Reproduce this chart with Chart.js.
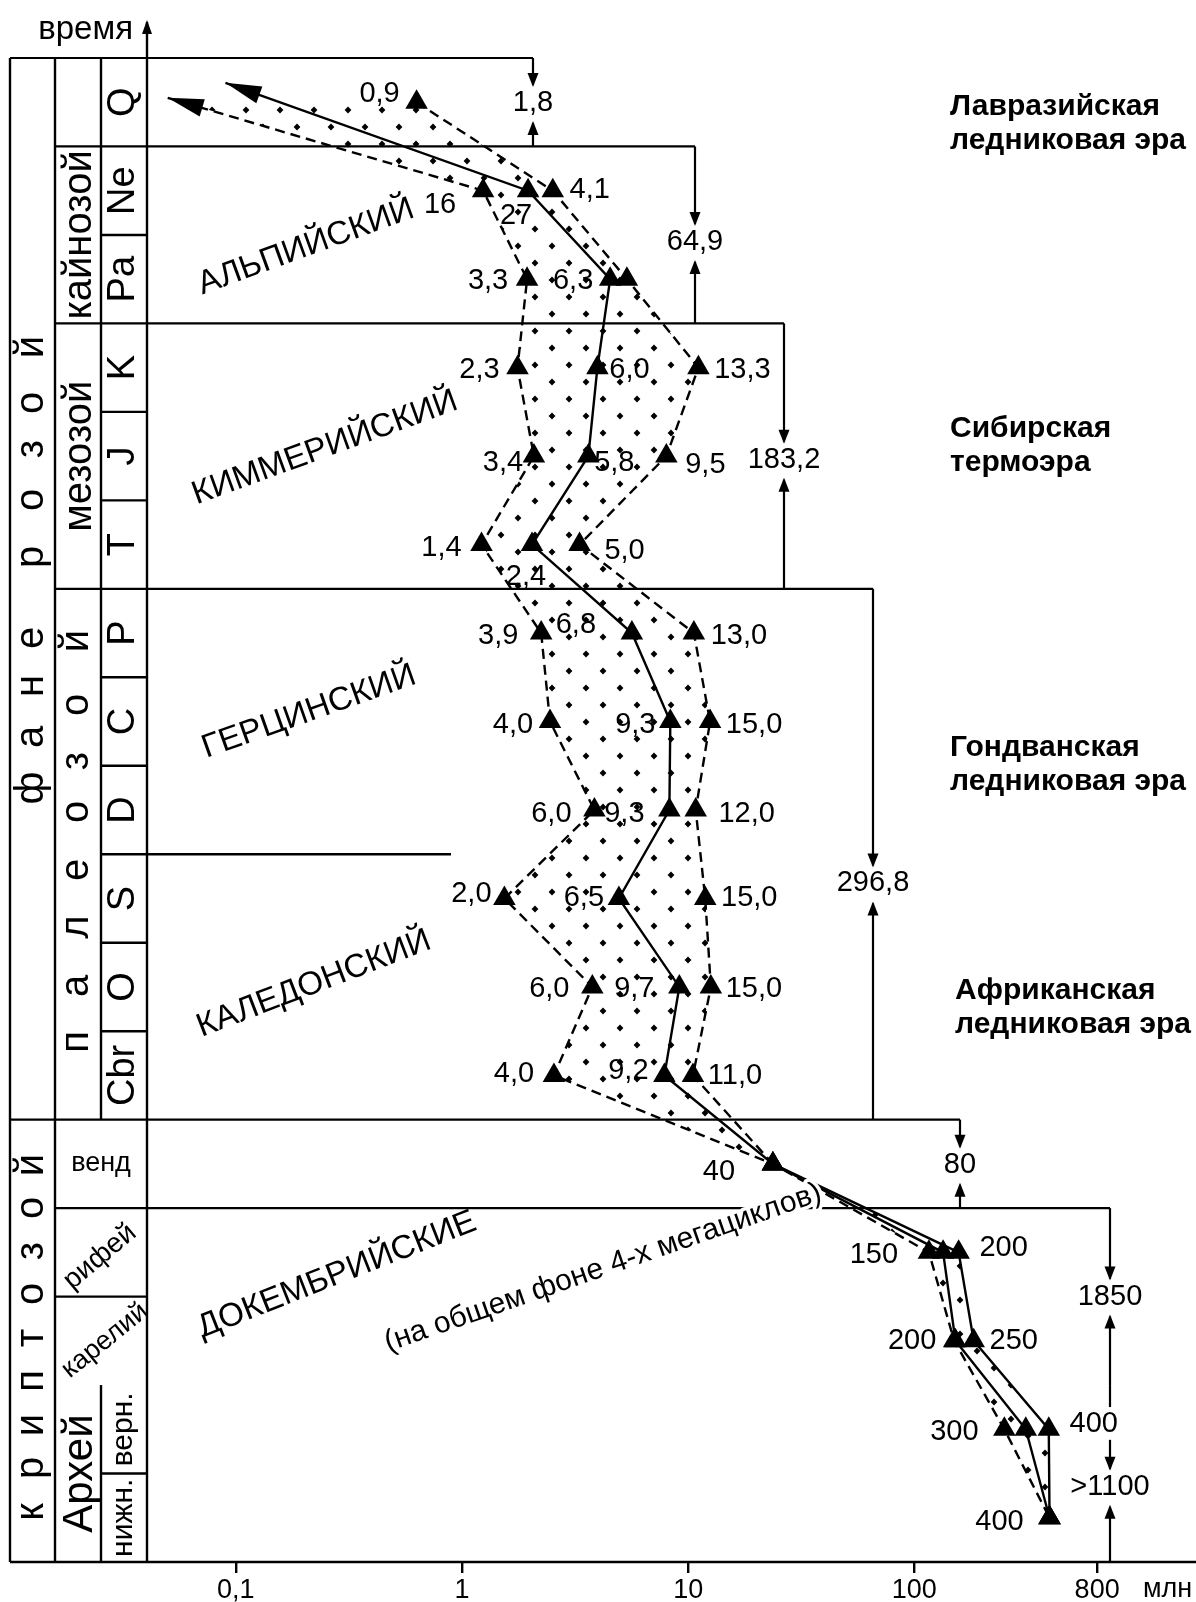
<!DOCTYPE html>
<html>
<head>
<meta charset="utf-8">
<script src="https://cdn.jsdelivr.net/npm/chart.js@4.4.1/dist/chart.umd.min.js"></script>
<style>
  html, body { margin: 0; padding: 0; background: #fff; }
  #wrap { width: 1196px; height: 1602px; }
</style>
</head>
<body>
<div id="wrap"><canvas id="chart" width="1196" height="1602"></canvas></div>
<script>
// Rows of the time scale, top (young) to bottom (old)
const periods = ['Q', 'Ne', 'Pa', 'K', 'J', 'T', 'P', 'C', 'D', 'S', 'O', 'Cbr',
  'венд', 'рифей', 'карелий', 'верн.', 'нижн.'];

// Cycle durations as drawn on the log axis (min / mean / max curves)
const minValues  = [0.05, 1.24, 1.94, 1.76, 2.08, 1.22, 2.24, 2.45, 3.85, 1.54, 3.77, 2.55, 23.7, 116, 150, 250, 396];
const meanValues = [0.09, 1.96, 4.52, 3.97, 3.62, 2.04, 5.64, 8.34, 8.26, 4.94, 9.14, 7.85, 23.7, 134, 152, 311, 396];
const maxValues  = [0.63, 2.52, 5.36, 11.1, 8.01, 3.31, 10.6, 12.5, 10.8, 11.9, 12.6, 10.5, 23.7, 157, 183, 393, 396];

// Numbers printed next to the triangles
const minLabels  = [null, '16', '3,3', '2,3', '3,4', '1,4', '3,9', '4,0', '6,0', '2,0', '6,0', '4,0', '40', '150', '200', '300', '400'];
const meanLabels = [null, '27', '6,3', '6,0', '5,8', '2,4', '6,8', '9,3', '9,3', '6,5', '9,7', '9,2', null, null, null, null, null];
const maxLabels  = ['0,9', '4,1', null, '13,3', '9,5', '5,0', '13,0', '15,0', '12,0', '15,0', '15,0', '11,0', null, '200', '250', '400', null];

// x axis (the "800" mark is drawn where the picture puts it)
const tickValues = [0.1, 1, 10, 100, 643];
const tickLabels = ['0,1', '1', '10', '100', '800'];

// durations of the climatic eras, shown with arrows on the right
const eraSpans = [
  { from: 0, to: 1, label: '1,8' },
  { from: 1, to: 3, label: '64,9' },
  { from: 3, to: 6, label: '183,2' },
  { from: 6, to: 12, label: '296,8' },
  { from: 12, to: 13, label: '80' },
  { from: 13, to: 15, label: '1850' },
  { from: 15, to: 17, label: '>1100' }
];

// ---- layout (pixels) ----
const FONT = '"Liberation Sans", Arial, sans-serif';
const NUM = '29px ' + FONT;
const COL = [10, 55, 101, 147];
const spanX = [533, 695, 784, 873, 960, 1110, 1110];
const spanLabelRow = [0.51, 2.08, 4.54, 9.33, 12.51, 14.0, 16.15];
const arrowFirstRow = [0.45, 0.28, null];

const minOff  = [null, [-43, 14], [-39, 2], [-38, 2], [-31, 7], [-40, 3], [-43, 3], [-37, 3], [-43, 4], [-33, -4], [-43, 2], [-40, -1], [-54, 8], [-55, 3], [-42, 0], [-50, 3], [-50, 4]];
const meanOff = [null, [-12, 25], [-37, 2], [32, 2], [26, 7], [-6, 32], [-56, -8], [-35, 3], [-45, 4], [-35, 0], [-45, 2], [-36, -4], null, null, null, null, null];
const maxOff  = [[-37, -8], [37, -1], null, [44, 2], [39, 9], [45, 6], [45, 3], [44, 3], [51, 4], [44, 0], [43, 2], [42, 1], null, [45, -4], [40, 0], [45, -5], null];

function series(vals, firstRow) {
  return vals.map((v, i) => ({ x: v, y: (i === 0 && firstRow != null) ? firstRow : i + 0.5 }));
}

function dotPattern() {
  const c = document.createElement('canvas');
  c.width = 34; c.height = 34;
  const g = c.getContext('2d');
  g.fillStyle = '#000';
  [[8, 8], [25, 25]].forEach(([x, y]) => {
    g.beginPath();
    g.moveTo(x, y - 3.4); g.lineTo(x + 3.4, y); g.lineTo(x, y + 3.4); g.lineTo(x - 3.4, y);
    g.closePath(); g.fill();
  });
  return g.createPattern(c, 'repeat');
}

function arrowHead(ctx, x, y, dx, dy, len, half) {
  const n = Math.hypot(dx, dy), ux = dx / n, uy = dy / n;
  ctx.beginPath();
  ctx.moveTo(x, y);
  ctx.lineTo(x - ux * len - uy * half, y - uy * len + ux * half);
  ctx.lineTo(x - ux * len + uy * half, y - uy * len - ux * half);
  ctx.closePath();
  ctx.fill();
}

function text(ctx, s, x, y, font, deg, align) {
  ctx.save();
  ctx.translate(x, y);
  if (deg) ctx.rotate(deg * Math.PI / 180);
  ctx.font = font;
  ctx.textAlign = align || 'center';
  ctx.textBaseline = 'middle';
  ctx.fillText(s, 0, 0);
  ctx.restore();
}

// letters of a spaced-out vertical word (reads bottom to top)
function spaced(ctx, letters, x, ys, size) {
  letters.forEach((ch, i) => {
    ctx.save();
    ctx.translate(x, ys[i]);
    ctx.rotate(-Math.PI / 2);
    ctx.font = size + 'px ' + FONT;
    ctx.textAlign = 'center';
    ctx.textBaseline = 'alphabetic';
    ctx.fillText(ch, 0, size * 0.26);
    ctx.restore();
  });
}

// the stratigraphic table, boundaries and era arrows
const tablePlugin = {
  id: 'table',
  beforeDatasetsDraw(chart) {
    const { ctx } = chart;
    const Y = r => chart.scales.y.getPixelForValue(r);
    const line = (x1, y1, x2, y2) => { ctx.beginPath(); ctx.moveTo(x1, y1); ctx.lineTo(x2, y2); ctx.stroke(); };
    ctx.save();
    ctx.strokeStyle = '#000';
    ctx.fillStyle = '#000';
    ctx.lineWidth = 2.4;

    // columns
    line(COL[0], Y(0), COL[0], Y(17));
    line(COL[1], Y(0), COL[1], Y(17));
    line(COL[2], Y(0), COL[2], Y(12));
    line(COL[2], Y(15), COL[2], Y(17));
    line(COL[3], Y(17), COL[3], 22);
    arrowHead(ctx, COL[3], 20, 0, -1, 14, 5);

    // row boundaries
    [2, 4, 5, 7, 8, 10, 11, 16].forEach(r => line(COL[2], Y(r), COL[3], Y(r)));
    line(COL[2], Y(9), 451, Y(9));
    line(COL[1], Y(14), COL[3], Y(14));
    line(COL[0], Y(17), 1196, Y(17));

    ctx.lineWidth = 2.2;
    eraSpans.forEach((s, k) => {
      const x = spanX[k], top = Y(s.from), bot = Y(s.to), ly = Y(spanLabelRow[k]);
      if (k < eraSpans.length - 1) {
        line(s.from === 0 || s.from === 12 ? COL[0] : COL[1], top, x, top);
      }
      if (s.label === '>1100') {
        line(x, top, x, top + 22);
        line(x, ly - 47, x, ly - 18);
      } else {
        line(x, top, x, ly - 18);
      }
      arrowHead(ctx, x, ly - 16, 0, 1, 14, 5.5);
      line(x, bot, x, ly + 20);
      arrowHead(ctx, x, ly + 18, 0, -1, 14, 5.5);
      text(ctx, s.label, x, ly, NUM);
    });

    // column 3: periods
    for (let i = 0; i < 12; i++) {
      text(ctx, periods[i], (COL[2] + COL[3]) / 2, Y(i + 0.5), '38px ' + FONT, -90);
    }
    text(ctx, periods[15], (COL[2] + COL[3]) / 2, Y(15.5), '30px ' + FONT, -90);
    text(ctx, periods[16], (COL[2] + COL[3]) / 2, Y(16.5), '30px ' + FONT, -90);
    text(ctx, periods[12], (COL[1] + COL[3]) / 2, Y(12.5), '27px ' + FONT);
    text(ctx, periods[13], 100, Y(13.55), '28px ' + FONT, -40);
    text(ctx, periods[14], 105, Y(14.5), '27px ' + FONT, -39);

    // column 2: eras
    const c2 = (COL[1] + COL[2]) / 2;
    text(ctx, 'кайнозой', c2 + 2, Y(2), '40px ' + FONT, -90);
    text(ctx, 'мезозой', c2 + 2, Y(4.5), '40px ' + FONT, -90);
    text(ctx, 'Архей', c2 + 2, Y(16.0), '42px ' + FONT, -90);
    spaced(ctx, ['п', 'а', 'л', 'е', 'о', 'з', 'о', 'й'], c2,
      [1042, 986, 927, 870, 812, 761, 705, 641], 40);

    // column 1: eons
    const c1 = (COL[0] + COL[1]) / 2;
    spaced(ctx, ['ф', 'а', 'н', 'е', 'р', 'о', 'з', 'о', 'й'], c1,
      [788, 737, 686, 638, 557, 500, 449, 403, 347], 40);
    spaced(ctx, ['к', 'р', 'и', 'п', 'т', 'о', 'з', 'о', 'й'], c1,
      [1512, 1468, 1425, 1381, 1338, 1294, 1251, 1208, 1165], 40);

    text(ctx, 'время', 133, 30, '33px ' + FONT, 0, 'right');
    text(ctx, 'млн лет', 1143, 1590, '27px ' + FONT, 0, 'left');

    // tectonic cycles
    const big = '33px ' + FONT;
    text(ctx, 'АЛЬПИЙСКИЙ', 306, 247, big, -20);
    text(ctx, 'КИММЕРИЙСКИЙ', 325, 448, big, -20);
    text(ctx, 'ГЕРЦИНСКИЙ', 309, 712, big, -19.5);
    text(ctx, 'КАЛЕДОНСКИЙ', 314, 984, big, -21);
    text(ctx, 'ДОКЕМБРИЙСКИЕ', 337, 1275, big, -21.5);

    // climatic eras
    const bold = 'bold 30px ' + FONT;
    [['Лавразийская', 'ледниковая эра', 950, 107],
     ['Сибирская', 'термоэра', 950, 429],
     ['Гондванская', 'ледниковая эра', 950, 748],
     ['Африканская', 'ледниковая эра', 955, 991]].forEach(([a, b, x, y]) => {
      text(ctx, a, x, y, bold, 0, 'left');
      text(ctx, b, x, y + 34, bold, 0, 'left');
    });
    ctx.restore();
  },
  afterDatasetsDraw(chart) {
    const { ctx } = chart;
    ctx.save();
    ctx.fillStyle = '#000';
    // arrow heads where the min and mean curves leave the chart
    [0, 1].forEach(d => {
      const pts = chart.getDatasetMeta(d).data;
      arrowHead(ctx, pts[0].x, pts[0].y, pts[0].x - pts[1].x, pts[0].y - pts[1].y, 36, 9);
    });
    // value labels
    [[minLabels, minOff], [meanLabels, meanOff], [maxLabels, maxOff]].forEach(([labels, offs], d) => {
      const pts = chart.getDatasetMeta(d).data;
      labels.forEach((s, i) => {
        if (!s) return;
        text(ctx, s, pts[i].x + offs[i][0], pts[i].y + offs[i][1], NUM);
      });
    });
    // note across the precambrian curves
    ctx.save();
    ctx.translate(603, 1268);
    ctx.rotate(-19.2 * Math.PI / 180);
    ctx.font = '30px ' + FONT;
    ctx.textAlign = 'center';
    ctx.textBaseline = 'middle';
    ctx.strokeStyle = '#fff';
    ctx.lineWidth = 7;
    ctx.lineJoin = 'round';
    ctx.strokeText('(на общем фоне 4-х мегациклов)', 0, 0);
    ctx.fillText('(на общем фоне 4-х мегациклов)', 0, 0);
    ctx.restore();
    ctx.restore();
  }
};

const dash = [10, 6];
const common = {
  borderColor: '#000',
  borderWidth: 2.4,
  pointStyle: 'triangle',
  pointBackgroundColor: '#000',
  pointBorderWidth: 0,
  tension: 0
};

new Chart(document.getElementById('chart'), {
  type: 'line',
  data: {
    datasets: [
      Object.assign({}, common, {
        label: 'min',
        data: series(minValues, arrowFirstRow[0]),
        borderDash: dash,
        pointRadius: c => c.dataIndex === 0 ? 0 : 13,
        fill: 2,
        backgroundColor: dotPattern()
      }),
      Object.assign({}, common, {
        label: 'mean',
        data: series(meanValues, arrowFirstRow[1]),
        pointRadius: c => c.dataIndex === 0 ? 0 : 13,
        fill: false
      }),
      Object.assign({}, common, {
        label: 'max',
        data: series(maxValues, arrowFirstRow[2]),
        pointRadius: 13,
        fill: false,
        segment: { borderDash: c => c.p0DataIndex >= 12 ? [] : dash }
      })
    ]
  },
  options: {
    responsive: false,
    animation: false,
    devicePixelRatio: 1,
    indexAxis: 'y',
    layout: { padding: { left: COL[3], top: 58, right: 0, bottom: 0 } },
    plugins: { legend: { display: false }, tooltip: { enabled: false } },
    scales: {
      x: {
        type: 'logarithmic',
        position: 'bottom',
        min: 0.0405,
        max: 1541,
        afterBuildTicks: s => { s.ticks = tickValues.map(v => ({ value: v })); },
        afterFit: s => { s.height = 40; },
        ticks: {
          callback: (v, i) => tickLabels[i],
          font: { size: 27, family: FONT },
          color: '#000',
          padding: 1,
          maxRotation: 0,
          autoSkip: false
        },
        grid: { display: true, drawOnChartArea: false, drawTicks: true, tickLength: 11, color: '#000', lineWidth: 2.4 },
        border: { display: false }
      },
      y: { type: 'linear', min: 0, max: 17, reverse: true, display: false }
    }
  },
  plugins: [tablePlugin]
});
</script>
</body>
</html>
